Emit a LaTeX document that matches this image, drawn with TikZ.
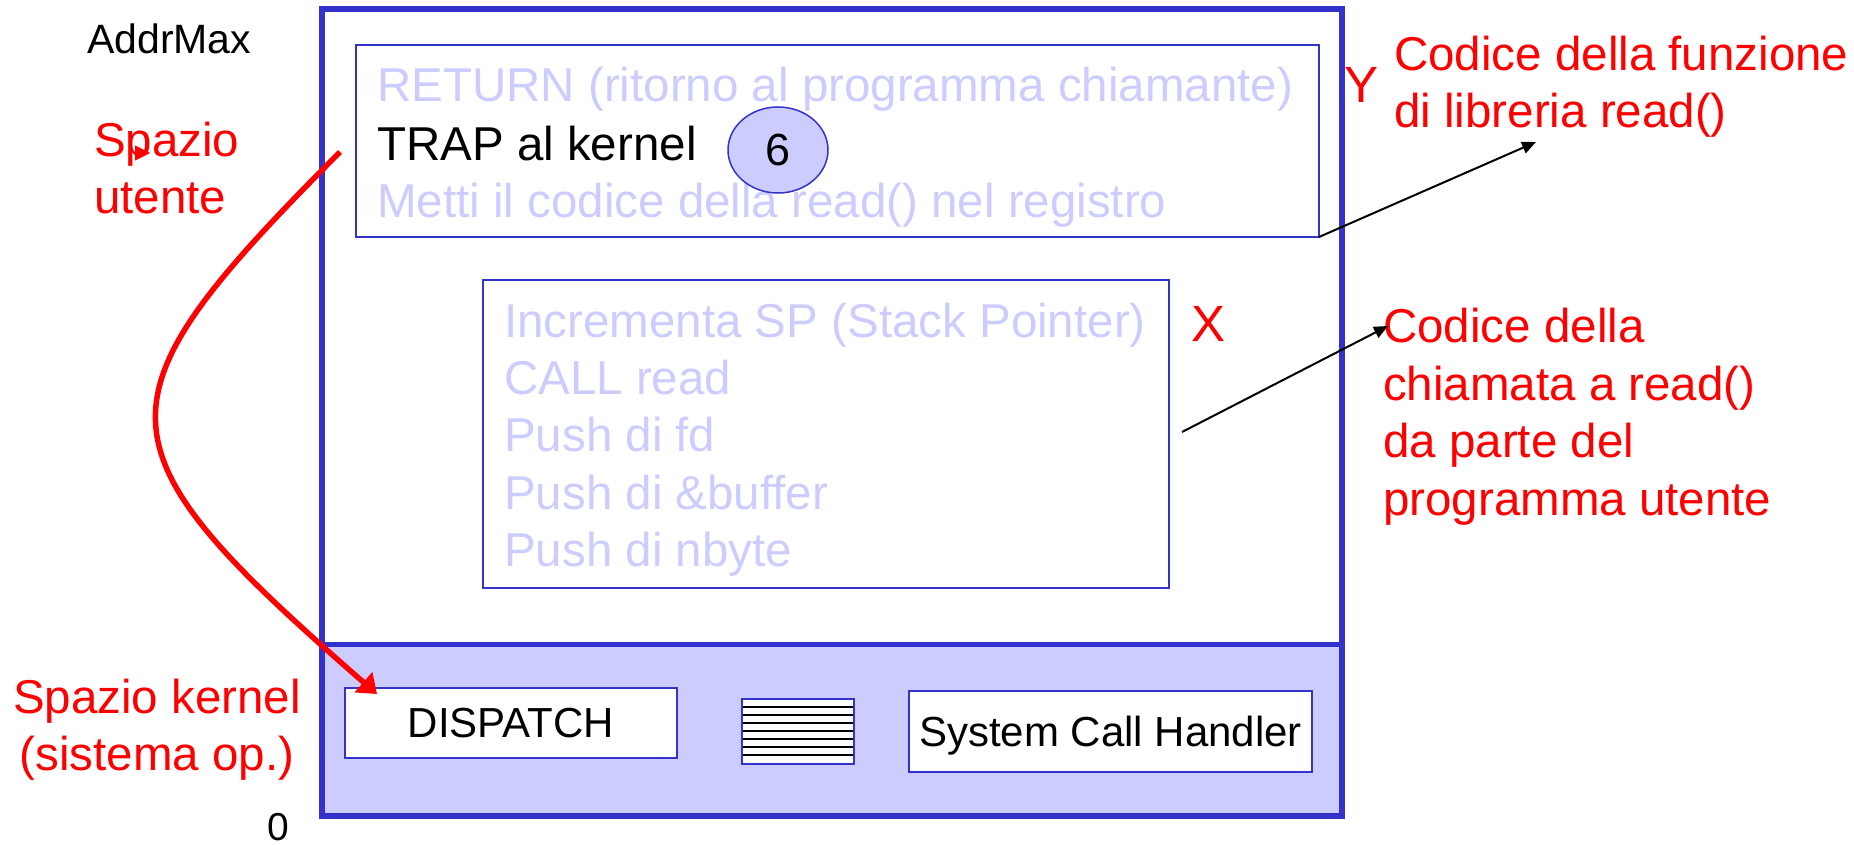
\documentclass[tikz,border=0pt]{standalone}
\usepackage{fontspec}
\setmainfont{Liberation Sans}
\usetikzlibrary{shapes.geometric,arrows.meta}
\definecolor{memblue}{HTML}{3333CC}
\definecolor{memlilac}{HTML}{CCCCFF}
\tikzset{
	membox/.style={draw=memblue, line width=2pt, anchor=north west, inner sep=0pt, outer sep=0pt},
	codeline/.style={anchor=base west, inner sep=0pt, text=memlilac, font=\fontsize{47.5}{57}\selectfont},
	rednote/.style={anchor=base west, inner sep=0pt, text=red, font=\fontsize{47.5}{57}\selectfont},
	smalltext/.style={font=\fontsize{42}{50}\selectfont},
	pointer/.style={line width=2pt, -{Triangle[length=14pt,width=12pt]}}
}

\begin{document}
\begin{tikzpicture}[x=1pt,y=-1pt]
	\useasboundingbox (0,0) rectangle (1854,845);
	\fill[memlilac] (322,644) rectangle (1342,816);
	\draw[memblue, line width=6pt] (322,9) rectangle (1342,816);
	\draw[memblue, line width=5pt] (322,644) -- (1342,644);

	\node[membox, minimum width=963pt, minimum height=192pt] (libbox) at (356,45) {};
	\node[codeline] (ret) at (377,102) {RETURN (ritorno al programma chiamante)};
	\node[codeline, text=black] (trap) at (377,161) {TRAP al kernel};
	\node[codeline] (metti) at (377,218) {Metti il codice della read() nel registro};
	\node[ellipse, draw=memblue, line width=1.5pt, fill=memlilac, minimum width=100pt, minimum height=86pt, inner sep=0pt, font=\fontsize{45}{54}\selectfont] (six) at (778,150) {6};

	\node[membox, minimum width=686pt, minimum height=308pt] (callbox) at (483,280) {};
	\foreach \t [count=\i] in {Incrementa SP (Stack Pointer), CALL read, Push di fd, Push di \&buffer, Push di nbyte}
		\node[codeline] (call\i) at (504,280+57.3*\i) {\t};

	\node[membox, fill=white, minimum width=332pt, minimum height=70pt, text depth=0pt, smalltext] (dispatch) at (345,688) {DISPATCH};
	\node[membox, fill=white, minimum width=112pt, minimum height=65pt] (table) at (742,699) {};
	\foreach \k in {1,...,7} \draw[line width=1.5pt] (743,699+8*\k) -- (853,699+8*\k);
	\node[membox, fill=white, minimum width=403pt, minimum height=81pt, text depth=0pt, smalltext] (handler) at (909,691) {System Call Handler};

	\node[anchor=base west, inner sep=0pt, font=\fontsize{41}{49}\selectfont] (addrmax) at (87,54) {AddrMax};
	\node[anchor=base west, inner sep=0pt, font=\fontsize{39}{47}\selectfont] (zero) at (267,840) {0};
	\node[rednote] (utente1) at (94,157) {Spazio};
	\node[rednote] (utente2) at (94,213) {utente};
	\node[rednote, anchor=base] (kernel1) at (157,713) {Spazio kernel};
	\node[rednote, anchor=base] (kernel2) at (157,770) {(sistema op.)};
	\node[rednote, font=\fontsize{51}{60}\selectfont] (ylab) at (1344,103) {Y};
	\node[rednote, font=\fontsize{51}{60}\selectfont] (xlab) at (1191,341) {X};
	\node[rednote] (lib1) at (1394,71) {Codice della funzione};
	\node[rednote] (lib2) at (1394,128) {di libreria read()};
	\node[rednote] (prog1) at (1383,342) {Codice della};
	\node[rednote] (prog2) at (1383,400) {chiamata a read()};
	\node[rednote] (prog3) at (1383,457) {da parte del};
	\node[rednote] (prog4) at (1383,515) {programma utente};

	\coordinate (libtip) at (1536,142);
	\draw[pointer] (libbox.south east) -- (libtip);
	\coordinate (calltip) at (1388,326);
	\draw[pointer] ([xshift=13pt,yshift=2pt]callbox.east) -- (calltip);
	\coordinate (spot) at (150,153);
	\draw[red, -{Triangle[length=15pt,width=15pt]}] ([xshift=-15pt]spot) -- (spot);
	\coordinate (trapfrom) at (340,152);
	\draw[red, line width=5.5pt, -{Triangle[length=18pt,width=26pt]}] (trapfrom) .. controls (90,403) and (90,444) .. ([xshift=32pt,yshift=-6pt]dispatch.north west);
\end{tikzpicture}
\end{document}
